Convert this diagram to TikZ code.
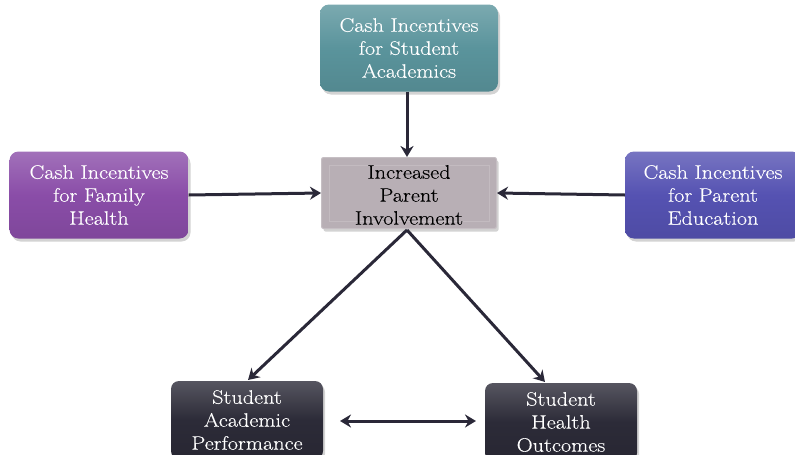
\documentclass[tikz,border=0pt]{standalone}
\usepackage{fontspec}
\setmainfont{Latin Modern Roman}[FakeStretch=1.14,FakeBold=0.2]
\usetikzlibrary{arrows.meta,shadows}
\definecolor{tealbox}{HTML}{5A949C}
\definecolor{purplebox}{HTML}{8A4DA8}
\definecolor{bluebox}{HTML}{5552B2}
\definecolor{graybox}{HTML}{B8AFB5}
\definecolor{darkbox}{HTML}{2C2B38}
\definecolor{linkcol}{HTML}{2A2838}
\begin{document}
\begin{tikzpicture}[x=1pt,y=-1pt,
  box/.style={rounded corners=9pt, minimum height=87pt, text width=#1,
    align=center, inner sep=2pt, text=white, font=\fontsize{19.5}{23}\selectfont,
    drop shadow={shadow xshift=2pt,shadow yshift=-3pt,opacity=0.35}},
  lowbox/.style={rounded corners=8pt, minimum height=78pt, text width=#1,
    align=center, inner sep=2pt, text=white, font=\fontsize{19.5}{23}\selectfont,
    drop shadow={shadow xshift=2pt,shadow yshift=-3pt,opacity=0.35}},
  link/.style={draw=linkcol, line width=3pt, -{Stealth[length=11pt,width=13pt]}},
  both/.style={draw=linkcol, line width=3pt, {Stealth[length=11pt,width=13pt]}-{Stealth[length=11pt,width=13pt]}}]
\useasboundingbox (0,0) rectangle (795,455);
\clip (0,0) rectangle (795,455);

% upper row of incentive boxes
\node[box=174pt, minimum width=178pt, top color=tealbox!80!white, bottom color=tealbox!92!black, middle color=tealbox]
  (acad) at (409,48) {Cash Incentives\\for Student\\Academics};
\node[box=174pt, minimum width=179pt, top color=purplebox!80!white, bottom color=purplebox!92!black, middle color=purplebox]
  (fam) at (99,195) {Cash Incentives\\for Family\\Health};
\node[box=172pt, minimum width=172pt, top color=bluebox!80!white, bottom color=bluebox!92!black, middle color=bluebox]
  (par) at (713,195) {Cash Incentives\\for Parent\\Education};

% central bevelled box
\node[rounded corners=2pt, minimum width=175pt, minimum height=71pt, text width=170pt,
  align=center, inner sep=2pt, font=\fontsize{19.5}{23}\selectfont, text=black,
  fill=graybox, draw=graybox!80!white, line width=1pt,
  drop shadow={shadow xshift=2pt,shadow yshift=-3pt,opacity=0.35}]
  (inv) at (409,193) {};
\draw[graybox!85!white, line width=1pt] (inv.north west) ++(8,8) rectangle ([xshift=-8pt,yshift=8pt]inv.south east);
\node[text width=170pt, align=center, inner sep=0pt, font=\fontsize{19.5}{23}\selectfont, text=black]
  (invtext) at ([yshift=-2pt]inv.center) {Increased\\Parent\\Involvement};

% outcome boxes
\node[lowbox=148pt, minimum width=150pt, top color=darkbox!80!white, bottom color=darkbox!90!black, middle color=darkbox]
  (perf) at (247,420) {Student\\Academic\\Performance};
\node[lowbox=148pt, minimum width=150pt, top color=darkbox!80!white, bottom color=darkbox!90!black, middle color=darkbox]
  (hlth) at (561,422) {Student\\Health\\Outcomes};

% connectors
\draw[link] (acad.south -| inv.north) ++(-2,0) coordinate (a1) -- ([xshift=-2pt]inv.north);
\draw[link] (fam.east) -- (inv.west);
\draw[link] (par.west) -- (inv.east);
\coordinate (split) at ([xshift=-2pt,yshift=-1pt]inv.south);
\draw[link] (split) -- (248,380) coordinate (pt1);
\draw[link] (split) -- (545,382) coordinate (pt2);
\coordinate (dl) at (340,421);
\coordinate (dr) at (476,421);
\draw[both] (dl) -- (dr);
\end{tikzpicture}
\end{document}
